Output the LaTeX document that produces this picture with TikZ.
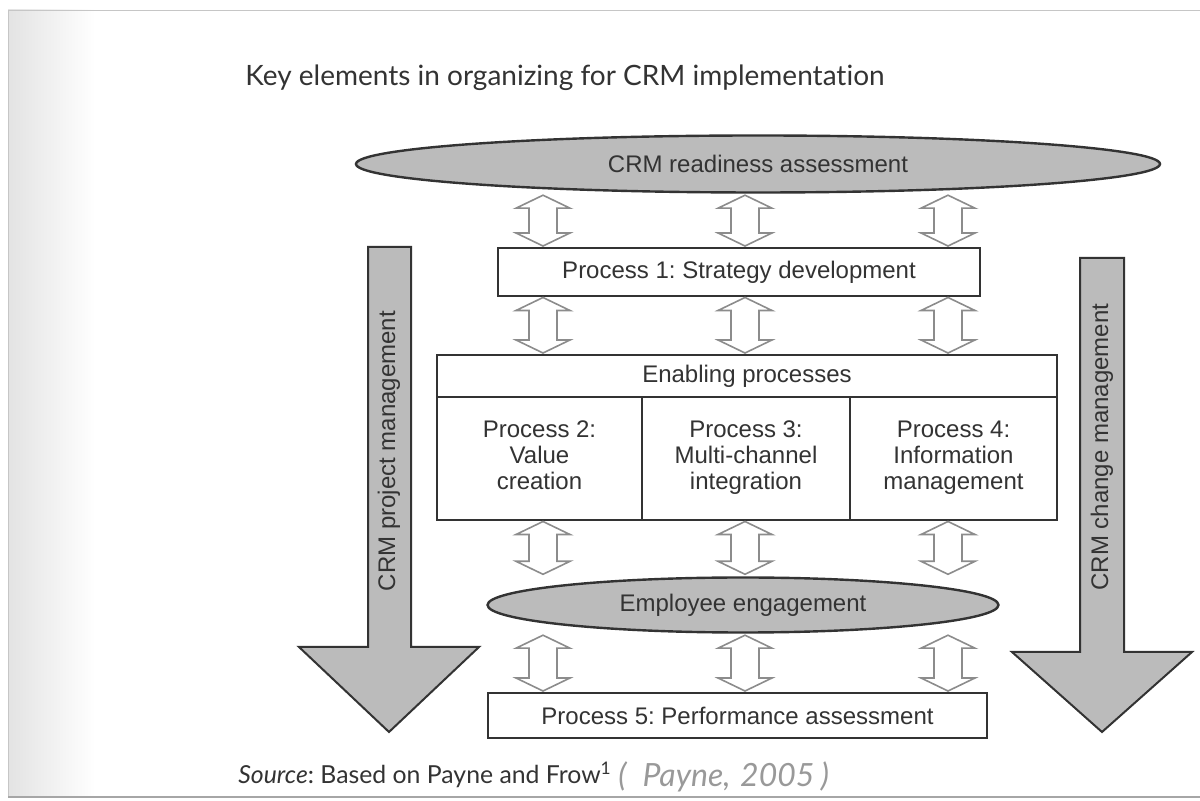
\documentclass[tikz,border=0pt]{standalone}
\usepackage{fontspec}
\setmainfont{Liberation Sans}
\newfontfamily\gillfont[Ligatures=NoCommon]{Lato}
\usetikzlibrary{shapes.geometric, calc, positioning}
\frenchspacing

\definecolor{inkgray}{HTML}{333333}
\definecolor{shadegray}{HTML}{BBBBBB}
\definecolor{arrowgray}{HTML}{8C8C8C}

\tikzset{
    box/.style={draw=inkgray, line width=1pt, fill=white, text=inkgray, align=center,
            font=\fontsize{12}{13}\selectfont, inner sep=0pt, outer sep=0pt},
    oval/.style={ellipse, draw=inkgray, line width=1.2pt, fill=shadegray, text=inkgray,
            font=\fontsize{12}{13}\selectfont, inner sep=0pt},
    dblarr/.style={draw=arrowgray, line width=0.8pt, fill=white},
    bigarr/.style={draw=inkgray, line width=1pt, fill=shadegray},
    sidelabel/.style={rotate=90, text=inkgray, font=\fontsize{12}{13}\selectfont},
}

\begin{document}
\begin{tikzpicture}[x=0.5pt, y=-0.5pt]
        \useasboundingbox (0,0) rectangle (1200,801);

        % page edge
        \fill[left color=gray!22, right color=white] (8,10) rectangle (95,797);
        \draw[gray!45] (8,797) -- (8,10) -- (1200,10);
        \draw[gray!70, line width=1pt] (8,797) -- (1200,797);

        \node[anchor=west, inner sep=0pt, text=inkgray, font=\gillfont\fontsize{14}{16}\selectfont] (title) at (245,78) {Key elements in organizing for CRM implementation};

        % side arrows
        \draw[bigarr] (368,247) -- (411,247) -- (411,647) -- (479,647) -- (389,732) -- (299,647) -- (368,647) -- cycle;
        \draw[bigarr] (1080,258) -- (1124,258) -- (1124,652) -- (1192,652) -- (1102,732) -- (1012,652) -- (1080,652) -- cycle;
        \node[sidelabel] (projlabel) at (389,451) {CRM project management};
        \node[sidelabel] (changelabel) at (1102,447) {CRM change management};

        % main column
        \node[oval, minimum width=402pt, minimum height=28.5pt] (ready) at (758,164) {CRM readiness assessment};
        \node[box, minimum width=241pt, minimum height=24pt] (strat) at (739,272) {Process 1: Strategy development};
        \node[box, minimum width=310pt, minimum height=21pt] (enab) at (747,376) {Enabling processes};
        \node[box, minimum width=102.5pt, minimum height=61.5pt, anchor=north west] (value) at (enab.south west) {\strut Process 2:\\Value\\creation\strut};
        \node[box, minimum width=104pt, minimum height=61.5pt, right=0pt of value] (multi) {\strut Process 3:\\Multi-channel\\integration\strut};
        \node[box, minimum width=103.5pt, minimum height=61.5pt, right=0pt of multi] (info) {\strut Process 4:\\Information\\management\strut};
        \node[oval, minimum width=255.5pt, minimum height=27.5pt] (engage) at (743,605) {Employee engagement};
        \node[box, minimum width=249.5pt, minimum height=22.5pt] (perf) at (737.5,715.5) {Process 5: Performance assessment};

        % two-way arrows between the layers
        \foreach \a/\b in {ready/strat, strat/enab, multi/engage, engage/perf} {
                \foreach \x in {543,745,948} {
                        \path (\x,0 |- \a.south) ++(0,1.5) coordinate (t);
                        \path (\x,0 |- \b.north) ++(0,-2) coordinate (b);
                        \draw[dblarr] (t) -- ++(27,13) -- ++(-13,0) -- ($(b)+(14,-13)$) -- ++(13,0) -- (b)
                                -- ++(-27,-13) -- ++(13,0) -- ($(t)+(-14,13)$) -- ++(-13,0) -- cycle;
                    }
            }

        % source line
        \node[anchor=west, inner sep=0pt, text=inkgray, font=\gillfont\fontsize{12.4}{15}\selectfont] (source) at (238,775) {\textit{Source}: Based on Payne and Frow\textsuperscript{1}};
        \node[anchor=west, inner sep=0pt, text=gray!80, font=\gillfont\itshape\fontsize{16}{18}\selectfont] (note) at (618,777) {(\hspace{0.5em}Payne,\hspace{0.3em}2005\hspace{0.2em})};
    \end{tikzpicture}
\end{document}
